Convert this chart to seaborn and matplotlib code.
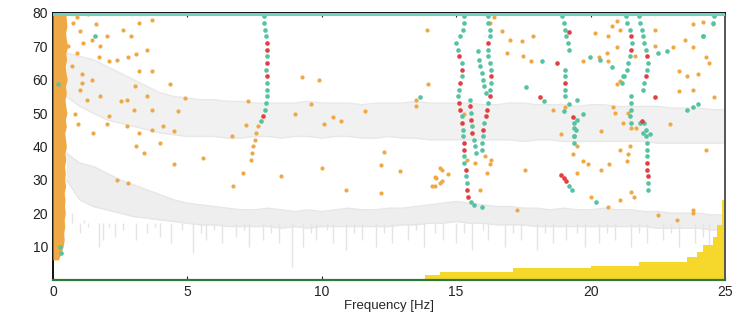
import numpy as np
import pandas as pd
import seaborn as sns
import matplotlib.pyplot as plt

# ---- spectra (grey bands), sampled every 0.5 Hz ----
freq = [0.5, 1, 1.5, 2, 2.5, 3, 3.5, 4, 4.5, 5, 5.5, 6, 6.5, 7, 7.5, 8, 8.5, 9, 9.5, 10,
        10.5, 11, 11.5, 12, 12.5, 13, 13.5, 14, 14.5, 15, 15.5, 16, 16.5, 17, 17.5, 18, 18.5, 19, 19.5, 20,
        20.5, 21, 21.5, 22, 22.5, 23, 23.5, 24, 24.5, 25]
lower_top = [38, 35, 34, 32, 30, 28.5, 27, 25.5, 24, 23, 22.5, 22, 21.5, 21, 21, 21.5, 21, 20.5, 21, 20.5,
             21, 21.5, 21, 21, 21.5, 21.5, 22, 22.5, 23, 23.5, 23, 22.5, 22, 22, 21.5, 21.5, 21, 21.5, 21, 21,
             21.5, 21, 21, 20.5, 20.5, 20, 20, 20, 19.5, 19.5]
lower_bot = [30, 24, 22, 21, 20, 19, 18.5, 18, 17.5, 17, 16.5, 16.5, 16, 16, 16, 16, 15.5, 16, 15.5, 16,
             16, 16, 16, 16, 16, 16.5, 16.5, 17, 17, 17.5, 17, 17, 16.5, 16.5, 16.5, 16, 16, 16, 16, 16,
             16, 16, 16, 16, 15.5, 15.5, 15.5, 15.5, 15, 15]
upper_top = [68, 67, 66, 64, 62, 60, 58, 56, 55, 54.5, 54, 54, 53.5, 53.5, 53, 53, 53, 53, 53.5, 53,
             53, 53, 52.5, 53, 53, 53, 53.5, 53, 53, 53, 53, 52.5, 52.5, 53, 53, 52.5, 52.5, 52.5, 52, 52.5,
             52.5, 52, 52, 52, 52, 51.5, 51.5, 51.5, 51, 51]
upper_bot = [55, 52, 50, 48, 47, 46, 45, 44, 43.5, 43, 43, 43, 42.5, 42.5, 43, 43, 42.5, 43, 43, 42.5,
             43, 43, 42.5, 42.5, 43, 42.5, 42.5, 42, 42, 42, 42, 42, 42, 42, 41.5, 42, 42, 41.5, 41.5, 41.5,
             41.5, 41.5, 41.5, 41.5, 41, 41, 41, 41, 41, 41]
spike_f = [0.7, 1.0, 1.15, 1.3, 1.7, 1.85, 2.1, 2.3, 2.6, 2.85, 3.1, 3.5, 3.8, 4.0, 4.4, 4.8, 5.2, 5.5, 5.7,
           6.0, 6.3, 6.8, 7.1, 7.3, 7.8, 8.1, 8.4, 8.9, 9.3, 9.6, 9.8, 10.2, 10.4, 10.9, 11.2, 11.5, 12.0,
           12.3, 12.6, 13.2, 13.5, 13.8, 14.2, 14.5, 15.0, 15.3, 15.6, 16.0, 16.2, 16.8, 17.1, 17.4, 18.0,
           18.3, 18.6, 19.1, 19.5, 19.8, 20.3, 20.6, 20.9, 21.5, 21.8, 22.1, 22.7, 23.0, 23.3, 23.9, 24.2, 24.4]
spike_lo = [20, 14, 18, 16, 10, 12, 16, 13, 15, 17, 12, 14, 16, 13, 11, 15, 8, 14, 12,
            15, 11, 13, 15, 10, 12, 14, 11, 4, 10, 14, 12, 15, 11, 9, 14, 12, 10,
            14, 11, 12, 15, 10, 14, 12, 11, 14, 9, 15, 12, 10, 14, 12, 9,
            14, 11, 12, 14, 10, 11, 14, 12, 10, 14, 11, 12, 14, 10, 11, 13, 8.5]

# ---- noise (yellow steps) ----
noise_f = [13.84, 14.4, 17.1, 20.0, 21.8, 23.6, 23.96, 24.2, 24.55, 24.7, 24.9, 25.0]
noise_h = [1.5, 2.4, 3.6, 4.2, 5.4, 6.9, 8.4, 10.5, 13.0, 16.5, 24.0, 33.0]

# ---- dense low-frequency orange column ----
col0_y = [6, 8, 10, 12, 14, 16, 18, 20, 22, 24, 26, 28, 30, 32, 34, 36, 38, 40, 42, 44, 46, 48, 50,
          52, 54, 56, 58, 60, 62, 64, 66, 68, 70, 72, 74, 76, 78, 80]
col0_x = [0.2, 0.3, 0.38, 0.42, 0.4, 0.44, 0.42, 0.46, 0.43, 0.45, 0.42, 0.47, 0.44, 0.46, 0.43, 0.48, 0.45, 0.5,
          0.47, 0.44, 0.5, 0.46, 0.52, 0.48, 0.45, 0.5, 0.47, 0.53, 0.49, 0.46, 0.51, 0.48, 0.55, 0.5, 0.47, 0.52, 0.5, 0.48]

# ---- stable poles (green) ----
green_f = [7.85, 7.87, 7.9, 7.92, 7.95, 7.93, 7.98, 7.97, 7.95, 7.93, 7.9, 7.75,
           15.3, 15.3, 15.25, 15.15, 15.0, 15.05, 15.2, 15.2, 15.1, 15.05, 15.2, 15.25, 15.25, 15.3, 15.3, 15.35, 15.4, 15.55, 15.65,
           15.5, 15.55, 15.6, 15.65, 15.7, 15.75,
           16.2, 16.2, 16.25, 16.25, 16.2, 16.2, 16.25, 16.3, 16.3, 16.25, 16.2, 16.05, 16.0, 15.95, 15.95,
           15.85, 15.9, 15.95, 16.0, 16.05, 16.1,
           18.95, 19.0, 19.05, 19.1, 19.15, 19.2, 19.05, 19.05, 19.05, 19.05, 19.4, 19.45, 19.4, 19.4, 19.2, 19.3,
           21.3, 21.35, 21.45, 21.55, 21.45, 21.4, 21.35, 21.25, 21.15, 21.5, 21.5, 21.5, 21.45, 21.5,
           21.8, 21.85, 21.9, 21.95, 22.0, 22.05, 22.15, 22.1, 22.0, 21.95, 22.0, 22.05, 22.05, 22.1, 22.1, 22.1, 22.15, 22.15,
           24.6, 24.55, 24.2,
           18.2, 19.5, 19.2, 19.0, 18.27, 19.7, 19.5, 19.4, 19.4, 19.97, 20.35, 20.8, 21.2, 23.6, 23.8, 24.0,
           24.2, 20.2, 21.95, 22.2, 21.84, 22.5, 22.85, 15.8, 17.6, 13.65, 15.96, 1.56, 0.2, 0.3, 0.25]
green_y = [79, 77, 75, 73, 67, 63, 59, 57, 55, 53, 51, 47.5,
           79, 77, 75, 73, 71, 69, 65, 61, 57, 55, 49, 45, 43, 37, 35, 31, 29, 23.5, 22.5,
           54, 50, 46, 42, 40, 38,
           79, 77, 75, 73, 69, 67, 65, 63, 59, 57, 53, 47, 43, 41, 39,
           66, 64, 62, 60, 58, 56,
           79, 77, 75, 73, 71, 69, 63, 61, 57, 55, 47, 45, 43, 41, 28, 27,
           79, 77, 75, 71, 67, 65, 63, 61, 59, 55, 53, 51, 49, 47,
           79, 77, 75, 73, 71, 69, 65, 63, 59, 57, 47, 45, 43, 41, 39, 37, 29, 27,
           79, 77, 73,
           65.6, 54, 52.6, 50.5, 53.5, 49.6, 48, 45.6, 43, 66.7, 66, 63.7, 61, 51, 51.7, 52.6,
           73, 23.5, 44, 43.6, 47, 68, 68.6, 68.6, 57.7, 54.7, 22, 73, 58.6, 8, 10]

# ---- unstable poles (red) ----
red_f = [7.95, 7.97, 7.95, 7.97, 7.82,
         15.1, 15.2, 15.15, 15.1, 15.15, 15.2, 15.3, 15.3, 15.35, 15.4, 15.45,
         15.52, 15.55, 15.6,
         16.2, 16.3, 16.25, 16.15, 16.1, 16.0,
         19.05, 18.9, 19.0, 19.1, 19.2,
         21.5, 21.5,
         22.1, 22.05, 22.1, 22.1, 22.15,
         18.75, 19.35, 21.9, 22.4, 18.1]
red_y = [71, 69, 65, 61, 49,
         67, 63, 59, 53, 51, 47, 41, 39, 33, 27, 25,
         52, 48, 44,
         71, 61, 55, 51, 49, 45,
         59, 31.5, 30.5, 29.5, 74.3,
         73, 69,
         67, 61, 35, 33, 31,
         65, 48.7, 47.5, 54.7, 54.7]

# ---- other poles (orange) ----
orange_f = [7.62, 7.56, 7.5, 7.45, 7.4, 7.35,
            0.74, 1.0, 1.3, 1.6, 1.7, 2.1, 2.4, 2.8, 3.1, 3.2, 3.5, 3.7, 1.08, 1.0, 1.26, 1.75, 2.1, 2.75,
            3.05, 3.0, 2.75, 3.2, 3.1, 3.4, 3.7, 4.0, 4.1, 4.5, 4.65, 4.35, 4.9, 4.5, 2.4, 2.8, 0.95, 0.83,
            1.5, 2.0, 0.57, 0.7, 0.9, 1.13, 1.44, 1.75, 2.0, 2.6, 2.9, 3.2, 3.7, 0.9, 1.1, 1.45, 2.55, 3.5, 3.7,
            5.6, 7.07, 6.7, 8.5, 10.0, 9.6, 9.0, 10.4, 10.7, 10.1, 11.6, 12.3, 12.2, 12.9, 10.9, 12.2,
            13.5, 13.5, 14.4, 14.25, 14.1, 14.4, 9.26, 9.9, 7.25, 7.2, 6.66,
            13.9, 16.7, 17.0, 17.45, 17.86, 16.9, 17.5, 17.8, 13.95, 14.47, 14.2, 14.47, 14.2, 14.7,
            15.4, 15.7, 16.07, 16.3, 16.26, 16.15, 15.9, 17.56, 17.26, 15.3, 16.4, 16.26,
            20.16, 20.65, 20.8, 21.0, 21.1, 20.6, 21.0, 19.7, 20.3, 20.65, 21.65, 22.4, 22.4, 23.07, 23.5,
            23.8, 24.2, 24.55, 23.8, 24.3, 24.4, 23.3, 23.6, 24.0, 23.8, 23.3, 24.6, 21.1, 21.0, 20.85,
            20.9, 21.4, 18.6, 19.05, 21.2, 21.5, 21.7, 20.4, 22.95, 18.9, 19.5, 19.35, 21.47, 21.1, 21.4,
            21.35, 19.7, 19.9, 20.4, 20.7, 19.5, 24.3, 20.0, 21.1, 20.65, 21.5, 21.6, 22.5, 23.2, 23.8, 23.8]
orange_y = [46, 44, 42, 40, 38, 36,
            77, 74.6, 79.7, 76.7, 66.7, 65.6, 66, 66.7, 67.7, 62.5, 69, 62.5, 61.6, 57, 54, 55, 49, 54,
            58, 51, 46, 44, 40, 38, 45, 41, 46, 44.5, 50.5, 58.6, 54.6, 34.6, 30, 29, 46.6, 49.6,
            44, 46.6, 70, 64, 68, 71, 72, 70, 73, 75, 73, 77, 78, 78.7, 59, 60, 53.5, 55, 51,
            36.6, 32, 28, 31, 33.4, 52.6, 49.6, 48.7, 47.5, 46.6, 50.5, 38.2, 34.3, 32.5, 27, 26,
            54, 52, 33.4, 30.4, 28, 29, 60.7, 60, 53.5, 46.3, 43,
            75, 74.6, 72, 71.6, 73, 68, 67, 65.6, 58.6, 33, 30.7, 29.5, 28, 31.6,
            36, 35, 37, 36, 34.6, 32, 27, 33, 21, 49.6, 78.8, 77,
            74, 73, 76, 77.6, 75, 68, 69.8, 65.6, 66.7, 65.6, 67, 75, 70, 69.8, 72,
            76.7, 77.3, 76.7, 69.8, 66.7, 65, 62.5, 61, 61.6, 57, 56.5, 54.7, 59.6, 58.6, 51.7,
            50, 50, 51, 51.7, 47, 45.6, 45.6, 44.5, 46.6, 43.6, 40, 37.6, 40, 39, 37.6,
            35.5, 35.5, 34.6, 33, 34.6, 32, 39, 25, 24, 22, 26.5, 25, 19.5, 18, 21, 20]

ORANGE = '#efa843'
GREEN = '#55c2a2'
RED = '#e23f42'
YELLOW = '#f6d72c'

sns.set_style('white')
plt.rcParams['font.family'] = ['Liberation Sans', 'DejaVu Sans']

fig = plt.figure(figsize=(7.56, 3.24), dpi=100)
ax = fig.add_axes([0.070, 0.136, 0.889, 0.824])

# grey spectra
ax.fill_between(freq, lower_bot, lower_top, color='#eeeeee', lw=0, zorder=1)
ax.vlines(spike_f, spike_lo, 17, color='#e4e4e4', lw=1.0, zorder=1)
sns.lineplot(x=freq, y=lower_top, ax=ax, color='#e6e6e6', lw=1.0, zorder=1)
sns.lineplot(x=freq, y=lower_bot, ax=ax, color='#e6e6e6', lw=1.0, zorder=1)
ax.fill_between(freq, upper_bot, upper_top, color='#f1f1f1', lw=0, zorder=1)
sns.lineplot(x=freq, y=upper_top, ax=ax, color='#e8e8e8', lw=1.0, zorder=1)
sns.lineplot(x=freq, y=upper_bot, ax=ax, color='#e8e8e8', lw=1.0, zorder=1)

# yellow noise steps
ax.fill_between(noise_f + [25.2], noise_h + [noise_h[-1]], 0, step='post', color=YELLOW, lw=0, zorder=2)

# orange column at 0 Hz
ax.fill_betweenx(col0_y, 0, col0_x, color=ORANGE, lw=0, zorder=3)

sns.scatterplot(x=orange_f, y=orange_y, ax=ax, color=ORANGE, s=9, linewidth=0, zorder=4)
sns.scatterplot(x=green_f, y=green_y, ax=ax, color=GREEN, s=11, linewidth=0, zorder=5)
sns.scatterplot(x=red_f, y=red_y, ax=ax, color=RED, s=11, linewidth=0, zorder=6)

ax.axhline(79.6, color='#6fcfc0', lw=2.2, zorder=7)

ax.set_xlim(0, 25)
ax.set_ylim(0, 80)
ax.set_xticks([0, 5, 10, 15, 20, 25])
ax.set_yticks([10, 20, 30, 40, 50, 60, 70, 80])
ax.tick_params(axis='both', direction='in', length=3, labelsize=10, colors='#222222',
               bottom=True, top=True, left=False)
ax.set_xlabel('Frequency [Hz]', fontsize=9.5, labelpad=1)
ax.set_ylabel('')

for side in ['left', 'top']:
    ax.spines[side].set_color('#111111')
    ax.spines[side].set_linewidth(1.4)
ax.spines['right'].set_color('#555555')
ax.spines['right'].set_linewidth(1.4)
ax.spines['bottom'].set_color('#2f7a3a')
ax.spines['bottom'].set_linewidth(1.6)

fig.savefig('out.png', dpi=100)
